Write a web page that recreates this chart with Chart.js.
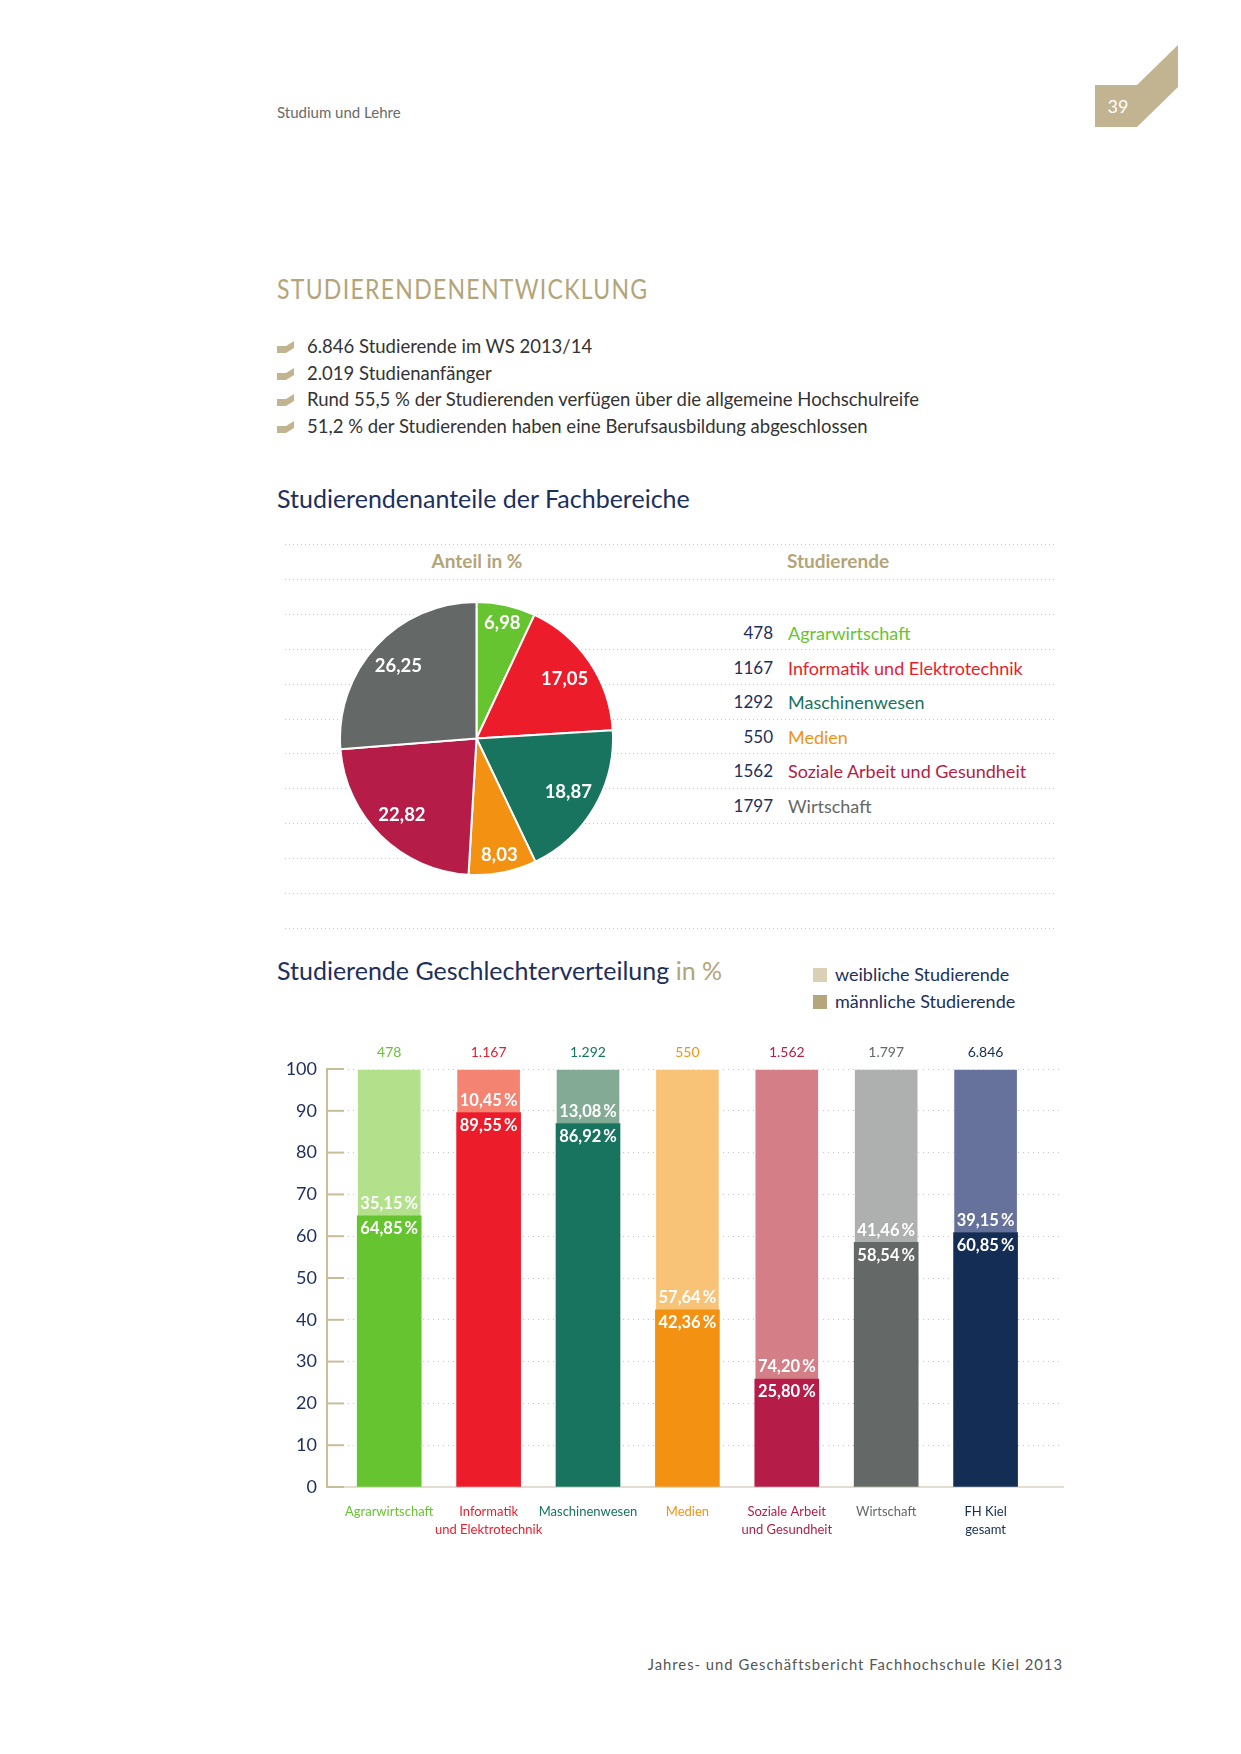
<!DOCTYPE html>
<html lang="de">
<head>
<meta charset="utf-8">
<title>Studierendenentwicklung</title>
<script src="https://cdn.jsdelivr.net/npm/chart.js@4/dist/chart.umd.min.js"></script>
<style>
body{margin:0;width:1241px;height:1754px;position:relative;background:#fff;font-family:Lato,"Open Sans",sans-serif;color:#333;overflow:hidden}
.a{position:absolute;white-space:nowrap}
.head{left:277px;top:102px;font-size:15px;line-height:20px;color:#6a6a6a}
.title{left:277px;top:271px;font-size:27px;line-height:36px;letter-spacing:1.5px;color:#b3a47a;transform:scaleX(0.853);transform-origin:0 50%}
.bul{left:277px;font-size:18.5px;line-height:24px;color:#333}
.bul svg{vertical-align:-1px;margin-right:12px}
.h2{left:277px;font-size:25px;line-height:32px;color:#1d2f5c}
.dots{left:285px;width:770px;height:1px;background:repeating-linear-gradient(to right,#c4c4c4 0 1px,transparent 1px 4px)}
.colh{font-size:19px;font-weight:bold;color:#b3a47a;line-height:24px;transform:translateX(-50%)}
.num{left:690px;width:83px;text-align:right;font-size:17px;line-height:24px;color:#1d2f5c}
.name{left:788px;font-size:18px;line-height:24px}
.leg{left:813px;font-size:18px;line-height:24px;color:#1d2f5c}
.leg span{display:inline-block;width:14px;height:14px;vertical-align:-1px;margin-right:8px}
.foot{right:178px;top:1654px;font-size:14.8px;line-height:20px;letter-spacing:1px;color:#555}
</style>
</head>
<body>
<div class="a head">Studium und Lehre</div>
<svg class="a" style="left:1090px;top:40px" width="95" height="92" viewBox="1090 40 95 92">
<polygon points="1095,85 1137,85 1178,45 1178,87 1137,127 1095,127" fill="#c2b391"/>
<text x="1118" y="113" fill="#fff" font-size="18" font-family="Lato" text-anchor="middle">39</text>
</svg>

<div class="a title">STUDIERENDENENTWICKLUNG</div>
<div id="bullets"></div>

<div class="a h2" style="top:482px">Studierendenanteile der Fachbereiche</div>
<div id="lines"></div>
<div class="a colh" style="left:477px;top:549px">Anteil in %</div>
<div class="a colh" style="left:838px;top:549px">Studierende</div>
<div class="a" style="left:339px;top:601px;width:275px;height:275px"><canvas id="pie"></canvas></div>
<div id="table"></div>

<div class="a h2" style="top:954px">Studierende Geschlechterverteilung <span style="color:#b3a47a">in %</span></div>
<div class="a leg" style="top:962px"><span style="background:#d9d0b5"></span>weibliche Studierende</div>
<div class="a leg" style="top:989px"><span style="background:#b5a67c"></span>männliche Studierende</div>
<div class="a" style="left:260px;top:1030px;width:830px;height:517px"><canvas id="bars"></canvas></div>

<div class="a foot">Jahres- und Geschäftsbericht Fachhochschule Kiel 2013</div>

<script>
// Kennzahlen
const bulletTexts=[
"6.846 Studierende im WS 2013/14",
"2.019 Studienanfänger",
"Rund 55,5 % der Studierenden verfügen über die allgemeine Hochschulreife",
"51,2 % der Studierenden haben eine Berufsausbildung abgeschlossen"
]

// Kreisdiagramm / Tabelle
const fachbereiche=["Agrarwirtschaft","Informatik und Elektrotechnik","Maschinenwesen","Medien","Soziale Arbeit und Gesundheit","Wirtschaft"]
const anteile=[6.98,17.05,18.87,8.03,22.82,26.25]
const studierende=[478,1167,1292,550,1562,1797]

// Balkendiagramm
const barLabels=[["Agrarwirtschaft"],["Informatik","und Elektrotechnik"],["Maschinenwesen"],["Medien"],["Soziale Arbeit","und Gesundheit"],["Wirtschaft"],["FH Kiel","gesamt"]]
const barCounts=[478,1167,1292,550,1562,1797,6846]
const maennlich=[64.85,89.55,86.92,42.36,25.80,58.54,60.85]
const weiblich=[35.15,10.45,13.08,57.64,74.20,41.46,39.15]
const yTicks=[0,10,20,30,40,50,60,70,80,90,100]

const dark=["#67c431","#ec1c2b","#18735f","#f39212","#b51c47","#646866","#142d55"]
const light=["#b3e08a","#f48372","#82aa95","#f9c377","#d47e87","#adb0ae","#67729c"]
const navy="#1d2f5c"
const tan="#c9bc98"

function dez(v){return v.toFixed(2).replace(".",",")}
function tsd(n){return String(n).replace(/\B(?=(\d{3})+(?!\d))/g,".")}

// bullets
let bh=""
bulletTexts.forEach((t,i)=>{
bh+=`<div class="a bul" style="top:${334+i*26.7}px"><svg width="18" height="13" viewBox="0 0 18 13"><polygon points="0,5 9,5 17,0 17,7 9,12 0,12" fill="#c2b391"/></svg>${t}</div>`
})
document.getElementById("bullets").innerHTML=bh

let lh=""
for(let i=0;i<12;i++){
lh+=`<div class="a dots" style="top:${544+i*34.9}px"></div>`
}
document.getElementById("lines").innerHTML=lh

let th=""
fachbereiche.forEach((f,i)=>{
let top=621+i*34.6
th+=`<div class="a num" style="top:${top}px">${studierende[i]}</div><div class="a name" style="top:${top}px;color:${dark[i]}">${f}</div>`
})
document.getElementById("table").innerHTML=th

Chart.defaults.font.family="Lato"
Chart.defaults.animation=false

const pieLabels={
id:"pieLabels",
afterDatasetsDraw(chart){
let ctx=chart.ctx
ctx.save()
ctx.font="bold 18.5px Lato"
ctx.fillStyle="#fff"
ctx.textAlign="center"
ctx.textBaseline="middle"
chart.getDatasetMeta(0).data.forEach((arc,i)=>{
let p=arc.getProps(["x","y","startAngle","endAngle","outerRadius"])
let mid=(p.startAngle+p.endAngle)/2
let r=p.outerRadius*(anteile[i]<10?0.87:0.78)
ctx.fillText(dez(anteile[i]),p.x+Math.cos(mid)*r,p.y+Math.sin(mid)*r)
})
ctx.restore()
}
}

new Chart(document.getElementById("pie"),{
type:"pie",
data:{
labels:fachbereiche,
datasets:[{data:anteile,backgroundColor:dark,borderColor:"#fff",borderWidth:2}]
},
options:{
responsive:true,
maintainAspectRatio:false,
events:[],
plugins:{legend:{display:false},tooltip:{enabled:false}}
},
plugins:[pieLabels]
})

const segLabels={
id:"segLabels",
afterDatasetsDraw(chart){
let ctx=chart.ctx
ctx.save()
ctx.font="bold 16.5px Lato"
ctx.fillStyle="#fff"
ctx.textAlign="center"
ctx.textBaseline="middle"
chart.getDatasetMeta(0).data.forEach((bar,i)=>{
ctx.fillText(dez(maennlich[i])+"\u2009%",bar.x,bar.y+13)
})
chart.getDatasetMeta(1).data.forEach((bar,i)=>{
ctx.fillText(dez(weiblich[i])+"\u2009%",bar.x,bar.base-12)
})
ctx.restore()
}
}

const yMarks={
id:"yMarks",
afterDraw(chart){
let ctx=chart.ctx
let ys=chart.scales.y
ctx.save()
ctx.strokeStyle=tan
ctx.lineWidth=2
yTicks.forEach(v=>{
let y=ys.getPixelForValue(v)
ctx.beginPath()
ctx.moveTo(chart.chartArea.left,y)
ctx.lineTo(chart.chartArea.left+17,y)
ctx.stroke()
})
ctx.restore()
}
}

const catTicks=s=>{s.ticks=barLabels.map((l,i)=>({value:i}))}

new Chart(document.getElementById("bars"),{
type:"bar",
data:{
datasets:[
{label:"männliche Studierende",data:maennlich.map((v,i)=>({x:i,y:v})),backgroundColor:dark,borderWidth:0,barThickness:64},
{label:"weibliche Studierende",data:weiblich.map((v,i)=>({x:i,y:v})),backgroundColor:light,borderColor:"rgba(255,255,255,0.6)",borderWidth:{top:1,left:1,right:1,bottom:0},borderSkipped:false,barThickness:64}
]
},
options:{
responsive:true,
maintainAspectRatio:false,
events:[],
layout:{padding:{right:27}},
plugins:{legend:{display:false},tooltip:{enabled:false}},
scales:{
x:{
type:"linear",
position:"bottom",
stacked:true,
offset:false,
min:-0.626,
max:6.779,
afterBuildTicks:catTicks,
afterFit:s=>{s.height=60},
grid:{display:false,offset:false},
border:{display:true,color:"#e2ddd0",width:2},
ticks:{
autoSkip:false,
maxRotation:0,
padding:7,
font:{size:13,lineHeight:1.45},
color:c=>dark[c.index],
callback:(v,i)=>barLabels[i]
}
},
x2:{
type:"linear",
position:"top",
offset:false,
min:-0.626,
max:6.779,
afterBuildTicks:catTicks,
afterFit:s=>{s.height=39},
grid:{display:false,drawTicks:false,offset:false},
border:{display:false},
ticks:{
autoSkip:false,
maxRotation:0,
padding:8,
font:{size:14},
color:c=>dark[c.index],
callback:(v,i)=>tsd(barCounts[i])
}
},
y:{
stacked:true,
min:0,
max:100,
afterBuildTicks:s=>{s.ticks=yTicks.map(v=>({value:v}))},
afterFit:s=>{s.width=67},
grid:{color:"#c4c4c4",lineWidth:1,drawTicks:false},
border:{display:true,color:tan,width:2,dash:[1,4]},
ticks:{padding:10,color:navy,font:{size:18}}
}
}
},
plugins:[segLabels,yMarks]
})
</script>
</body>
</html>
